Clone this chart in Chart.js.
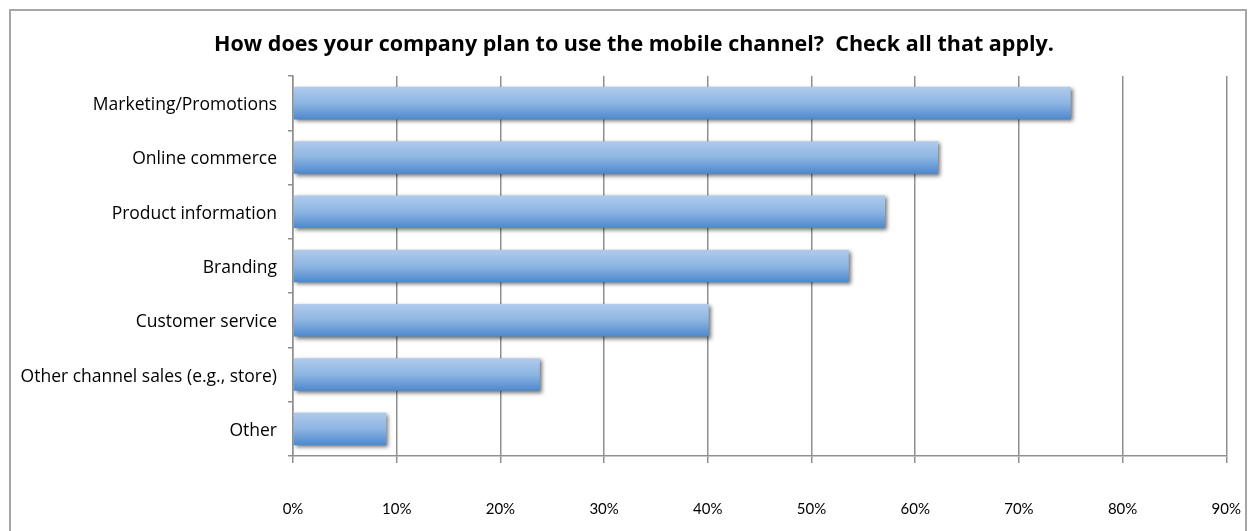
<!DOCTYPE html>
<html>
<head>
<meta charset="utf-8">
<script src="https://cdn.jsdelivr.net/npm/chart.js@4.4.1/dist/chart.umd.min.js"></script>
<style>
  html, body { margin: 0; background: #fff; overflow: hidden; }
  #frame {
    position: absolute; left: 9px; top: 9px;
    width: 1234px; height: 540px;
    border: 2px solid #a6a6a6;
  }
  /* canvas runs a little past the right edge; the x axis keeps room for its last label */
  #wrap { position: absolute; left: 0; top: 0; width: 1278px; height: 531px; }
</style>
</head>
<body>
<div id="frame"></div>
<div id="wrap"><canvas id="usage_graph"></canvas></div>
<script>
var categories = [
  "Marketing/Promotions",
  "Online commerce",
  "Product information",
  "Branding",
  "Customer service",
  "Other channel sales (e.g., store)",
  "Other"
];
var percents = [75.0, 62.2, 57.1, 53.6, 40.1, 23.8, 9.0];
var xTicks = [0, 10, 20, 30, 40, 50, 60, 70, 80, 90];

var titleText = "How does your company plan to use the mobile channel?  Check all that apply.";
var axisGray = "#8f8f8f";

// vertical gradient for each bar, light on top, darker at the bottom
function barGradient(context) {
  var chart = context.chart;
  var yScale = chart.scales.y;
  if (!yScale || !chart.chartArea) return "#7fa9dc";
  var center = yScale.getPixelForValue(context.dataIndex);
  var half = (yScale.height / categories.length) * 0.6 / 2;
  var g = chart.ctx.createLinearGradient(0, center - half, 0, center + half);
  g.addColorStop(0, "#b0cbec");
  g.addColorStop(0.5, "#8db5e2");
  g.addColorStop(1, "#4d88cd");
  return g;
}

// soft drop shadow under the bars
const barShadow = {
  id: "barShadow",
  beforeDatasetsDraw(chart) {
    var ctx = chart.ctx;
    ctx.save();
    ctx.shadowColor = "rgba(0, 0, 0, 0.55)";
    ctx.shadowBlur = 4;
    ctx.shadowOffsetX = 2;
    ctx.shadowOffsetY = 2;
  },
  afterDatasetsDraw(chart) {
    chart.ctx.restore();
  }
};

// heading, centred over the framed box rather than over the canvas
const heading = {
  id: "heading",
  afterDraw(chart) {
    var ctx = chart.ctx;
    ctx.save();
    ctx.font = "bold 21.5px 'Open Sans', sans-serif";
    ctx.fillStyle = "#000";
    ctx.textAlign = "center";
    ctx.textBaseline = "middle";
    ctx.fillText(titleText, 634, 45);
    ctx.restore();
  }
};

const data_usage = {
  labels: categories,
  datasets: [
    {
      data: percents,
      backgroundColor: barGradient,
      borderWidth: 0,
      barPercentage: 0.6,
      categoryPercentage: 1.0,
    },
  ],
};

const config_usage = {
  type: "bar",
  data: data_usage,
  plugins: [barShadow, heading],
  options: {
    indexAxis: "y",
    responsive: true,
    maintainAspectRatio: false,
    animation: false,
    layout: { padding: { left: 0, right: 29, top: 76, bottom: 0 } },
    plugins: {
      legend: { display: false },
      tooltip: { enabled: false },
      title: { display: false },
    },
    scales: {
      x: {
        min: 0,
        max: 90,
        afterBuildTicks: function (scale) {
          scale.ticks = xTicks.map(function (v) { return { value: v }; });
        },
        afterFit: function (scale) { scale.height = 75; },
        ticks: {
          callback: function (v) { return v + "%"; },
          color: "#000",
          font: { family: "Lato, sans-serif", size: 15 },
          padding: 37,
          maxRotation: 0,
        },
        grid: {
          color: axisGray,
          lineWidth: 1.5,
          tickLength: 7,
          drawTicks: true,
        },
        border: { color: axisGray, width: 1.5 },
      },
      y: {
        offset: true,
        afterFit: function (scale) { scale.width = 293; },
        ticks: {
          color: "#000",
          font: { family: "'Open Sans', sans-serif", size: 17.5 },
          padding: 11,
          labelOffset: 2,
        },
        grid: {
          offset: true,
          drawOnChartArea: false,
          color: axisGray,
          lineWidth: 1.5,
          tickLength: 5,
        },
        border: { color: axisGray, width: 1.5 },
      },
    },
  },
};

new Chart(document.getElementById("usage_graph"), config_usage);
</script>
</body>
</html>
